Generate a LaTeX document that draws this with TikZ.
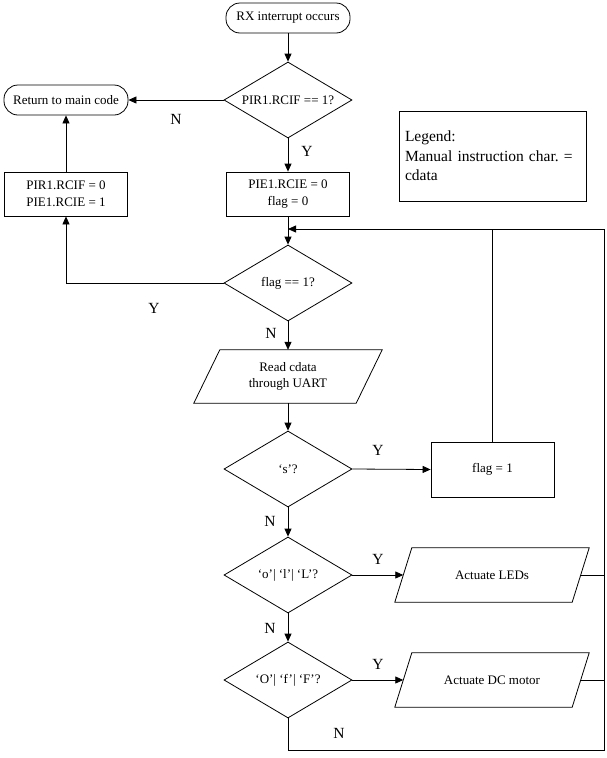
\documentclass[tikz,border=0pt]{standalone}
\usepackage{fontspec}
\setmainfont{Liberation Serif}
\usetikzlibrary{shapes.geometric,arrows.meta}
\begin{document}
\begin{tikzpicture}[x=1pt,y=-1pt,
  every node/.style={font=\fontsize{13}{16.5}\selectfont},
  base/.style={draw, line width=0.8pt, inner sep=1pt, align=center},
  term/.style={base, rounded corners=14pt, minimum width=124pt, minimum height=30pt},
  proc/.style={base, minimum width=123pt, minimum height=44pt},
  dec/.style={base, diamond, aspect=1.7, minimum width=128pt, minimum height=76pt, inner sep=0pt},
  iobody/.style={inner sep=0pt, align=center},
  ioline/.style={line width=0.8pt, line join=miter},
  lbl/.style={font=\fontsize{15.5}{18}\selectfont},
  conn/.style={line width=0.8pt},
  arr/.style={conn, -{Triangle[length=8pt,width=7pt]}}
]
\useasboundingbox (0,0) rectangle (606,758);

% nodes
\node[term] (start) at (288,18) {RX interrupt occurs};
\node[dec] (d1) at (288,100) {PIR1.RCIF == 1?};
\node[term] (ret) at (66,100) {Return to main code};
\node[proc] (pie) at (288,194) {PIE1.RCIE = 0\\flag = 0};
\node[proc] (pir) at (66,194) {PIR1.RCIF = 0\\PIE1.RCIE = 1};
\node[draw, line width=0.8pt, minimum width=187pt, minimum height=90pt, text width=183pt, align=left, inner sep=2pt,
      font=\fontsize{15.5}{19.5}\selectfont] (legend) at (492.5,156) {\hspace*{4pt}Legend:\\\hspace*{4pt}Manual instruction char.\ =\\\hspace*{4pt}cdata};
\node[dec] (d2) at (288,283) {flag == 1?};
\node[iobody, minimum width=162pt, minimum height=53pt] (read) at (288,376.5) {Read cdata\\through UART};
\draw[ioline] ([xshift=13pt]read.north west) -- ([xshift=13pt]read.north east) -- ([xshift=-13pt]read.south east) -- ([xshift=-13pt]read.south west) -- cycle;
\node[dec] (d3) at (288,469) {‘s’?};
\node[proc, minimum height=55pt] (f1) at (492.5,469.5) {flag = 1};
\node[dec] (d4) at (288,575) {‘o’| ‘l’| ‘L’?};
\node[iobody, minimum width=177pt, minimum height=54pt] (led) at (492,575) {Actuate LEDs};
\draw[ioline] ([xshift=8.5pt]led.north west) -- ([xshift=8.5pt]led.north east) -- ([xshift=-8.5pt]led.south east) -- ([xshift=-8.5pt]led.south west) -- cycle;
\node[dec] (d5) at (288,680) {‘O’| ‘f’| ‘F’?};
\node[iobody, minimum width=177pt, minimum height=54pt] (dc) at (492,680) {Actuate DC motor};
\draw[ioline] ([xshift=8.5pt]dc.north west) -- ([xshift=8.5pt]dc.north east) -- ([xshift=-8.5pt]dc.south east) -- ([xshift=-8.5pt]dc.south west) -- cycle;

% helper coordinates
\coordinate (j1) at (288,229);
\coordinate (tr) at (604,229);
\coordinate (br) at (604,750);
\coordinate (bl) at (288,750);

% connectors
\draw[arr] (start) -- (d1);
\draw[arr] (d1.west) -- (ret.east);
\draw[arr] (d1.south) -- (pie.north);
\draw[arr] (pir.north) -- (ret.south);
\draw[arr] (pie.south) -- (d2.north);
\draw[arr] (d2.west) -- (d2.west -| pir.south) -- (pir.south);
\draw[arr] (d2.south) -- (read.north);
\draw[arr] (read.south) -- (d3.north);
\draw[arr] (d3.east) -- (f1.west);
\draw[conn] (f1.north) -- (f1.north |- tr);
\draw[arr] (d3.south) -- (d4.north);
\draw[arr] (d4.east) -- (led.west);
\draw[arr] (d4.south) -- (d5.north);
\draw[arr] (d5.east) -- (dc.west);
\draw[conn] (led.east) -- (led.east -| tr);
\draw[conn] (dc.east) -- (dc.east -| tr);
\draw[arr] (d5.south) -- (bl) -- (br) -- (tr) -- (j1);

% labels
\node[lbl] (n1) at (176,119) {N};
\node[lbl] (y1) at (307,151) {Y};
\node[lbl] (y2) at (154,308) {Y};
\node[lbl] (n2) at (271,333) {N};
\node[lbl] (y3) at (378,450) {Y};
\node[lbl] (n3) at (270,521) {N};
\node[lbl] (y4) at (378,559) {Y};
\node[lbl] (n4) at (270,628) {N};
\node[lbl] (y5) at (378,664) {Y};
\node[lbl] (n5) at (339,733) {N};
\end{tikzpicture}
\end{document}
